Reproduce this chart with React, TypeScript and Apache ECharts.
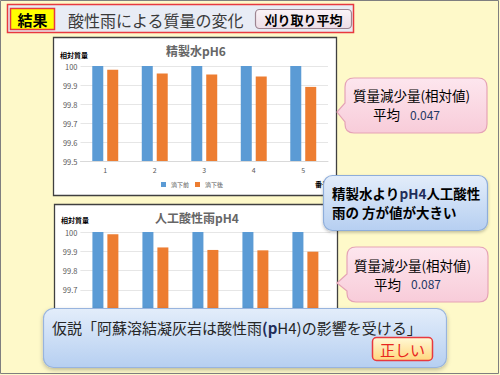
import React, { useEffect, useRef } from 'react';
import * as echarts from 'echarts';

// ---------- data ----------
const categories = ['1', '2', '3', '4', '5'];
const seriesNames = ['滴下前', '滴下後'];
const pureBefore = [100, 100, 100, 100, 100];
const pureAfter = [99.98, 99.96, 99.955, 99.945, 99.89];
const acidBefore = [100, 100, 100, 100, 100];
const acidAfter = [99.988, 99.92, 99.907, 99.905, 99.898];
const yMin = 99.5;
const yMax = 100;
const yStep = 0.1;

const chartTitles = ['精製水pH6', '人工酸性雨pH4'];
const yAxisName = '相対質量';
const xAxisName = '番号';
const headerLabel = '結果';
const headerTitle = '酸性雨による質量の変化';
const headerButton = '刈り取り平均';
const calloutHead = '質量減少量(相対値)';
const calloutAvgLabel = '平均';
const avgValues = ['0.047', '0.087'];
const compareLines = ['精製水より', 'pH4', '人工酸性', '雨の 方が値が大きい'];
const hypothesisParts = ['仮説「阿蘇溶結凝灰岩は酸性雨', '(p', 'H4)の影響を受ける」'];
const verdict = '正しい';

// ---------- styling ----------
const FF = "'Noto Sans CJK JP', 'Noto Sans', sans-serif";
const BLUE = '#5B9BD5';
const ORANGE = '#ED7D31';

function calloutD(x: number, y: number, w: number, h: number, r: number, tail?: number[]) {
  let d = `M${x + r},${y} H${x + w - r} Q${x + w},${y} ${x + w},${y + r} V${y + h - r} Q${x + w},${y + h} ${x + w - r},${y + h} H${x + r} Q${x},${y + h} ${x},${y + h - r}`;
  if (tail) {
    const [yTop, tipX, tipY, yBot] = tail;
    d += ` V${yBot} L${tipX},${tipY} L${x},${yTop}`;
  }
  d += ` V${y + r} Q${x},${y} ${x + r},${y} Z`;
  return d;
}

echarts.graphic.registerShape('calloutPink1', echarts.graphic.extendPath(calloutD(345, 78, 142, 55, 9, [103, 337, 112, 122]), {}));
echarts.graphic.registerShape('calloutPink2', echarts.graphic.extendPath(calloutD(347, 247, 141, 55, 9, [274, 337, 283, 291]), {}));

const pinkFill = () =>
  new echarts.graphic.LinearGradient(0, 0, 0, 1, [
    { offset: 0, color: '#FDE6EE' },
    { offset: 1, color: '#F8CCD9' },
  ]);
const blueFill = () =>
  new echarts.graphic.LinearGradient(0, 0, 0, 1, [
    { offset: 0, color: '#E3EDFA' },
    { offset: 1, color: '#B6CFF1' },
  ]);

function txt(x: number, y: number, text: string, opts: any = {}, z = 110) {
  const align = opts.align || 'left';
  return {
    type: 'text',
    x,
    y,
    z,
    style: {
      text,
      fill: opts.fill || '#000',
      fontSize: opts.fontSize || 12,
      fontWeight: opts.fontWeight || 'normal',
      fontFamily: FF,
      align,
      textAlign: align,
      verticalAlign: 'middle',
      textVerticalAlign: 'middle',
      rich: opts.rich,
    },
  };
}

// hiddenBelow: value labels below this lie under the hypothesis box in the reference
function axesFor(gridIndex: number, showXLabels: boolean, hiddenBelow: number) {
  return {
    x: {
      type: 'category',
      gridIndex,
      data: categories,
      axisLine: { lineStyle: { color: '#D9D9D9' } },
      axisTick: { show: false },
      axisLabel: { show: showXLabels, color: '#595959', fontSize: 7, margin: 5, fontFamily: FF },
    },
    y: {
      type: 'value',
      gridIndex,
      min: yMin,
      max: yMax,
      interval: yStep,
      axisLine: { show: false },
      axisTick: { show: false },
      splitLine: { lineStyle: { color: '#E6E6E6' } },
      axisLabel: {
        color: '#595959',
        fontSize: 7.5,
        margin: 3,
        fontFamily: FF,
        formatter: (v: number) => (v < hiddenBelow ? '' : String(+v.toFixed(1))),
      },
    },
  };
}

const a1 = axesFor(0, true, 0);
const a2 = axesFor(1, false, 99.65);

function bar(name: string, data: number[], color: string, idx: number) {
  return {
    type: 'bar',
    name,
    data,
    xAxisIndex: idx,
    yAxisIndex: idx,
    barWidth: 11,
    barGap: '36%',
    itemStyle: { color },
  };
}

const option: any = {
  animation: false,
  backgroundColor: '#FEF9C9',
  textStyle: { fontFamily: FF },
  grid: [
    { left: 80.5, width: 247.5, top: 66, height: 95, outerBoundsMode: 'none', containLabel: false },
    { left: 80.4, width: 250, top: 232, height: 96.5, outerBoundsMode: 'none', containLabel: false },
  ],
  xAxis: [a1.x, a2.x],
  yAxis: [a1.y, a2.y],
  legend: {
    left: 161,
    top: 181.5,
    padding: 0,
    itemWidth: 5,
    itemHeight: 5,
    itemGap: 6,
    icon: 'rect',
    data: seriesNames,
    textStyle: { fontSize: 6, color: '#595959', fontFamily: FF },
  },
  series: [
    bar(seriesNames[0], pureBefore, BLUE, 0),
    bar(seriesNames[1], pureAfter, ORANGE, 0),
    bar(seriesNames[0], acidBefore, BLUE, 1),
    bar(seriesNames[1], acidAfter, ORANGE, 1),
  ],
  graphic: [
    // slide border
    { type: 'rect', z: -20, shape: { x: 0.5, y: 0.5, width: 498, height: 373 }, style: { fill: 'none', stroke: '#7F7F7F', lineWidth: 1 } },
    // header bar
    { type: 'rect', z: -5, shape: { x: 7.5, y: 4.5, width: 346, height: 28 }, style: { fill: '#E8ECF5', stroke: '#E8393F', lineWidth: 1.5 } },
    { type: 'rect', z: -4, shape: { x: 10.5, y: 8.5, width: 44, height: 21 }, style: { fill: '#FFFF00', stroke: '#E8393F', lineWidth: 1.5 } },
    txt(32.5, 19.5, headerLabel, { fontSize: 15, fontWeight: 'bold', align: 'center' }, 5),
    txt(68, 19.5, headerTitle, { fontSize: 16, fill: '#3A3A3A' }, 5),
    {
      type: 'rect',
      z: -4,
      shape: { x: 255.5, y: 9.5, width: 96, height: 19, r: 4 },
      style: {
        fill: new echarts.graphic.LinearGradient(0, 0, 0, 1, [
          { offset: 0, color: '#FBF4F8' },
          { offset: 1, color: '#EDDDE6' },
        ]),
        stroke: '#9E8592',
        lineWidth: 1.2,
      },
    },
    txt(303.5, 19.5, headerButton, { fontSize: 13, fontWeight: 'bold', align: 'center' }, 5),

    // chart boxes
    { type: 'rect', z: -10, shape: { x: 53.5, y: 37.5, width: 283, height: 158 }, style: { fill: '#FFFFFF', stroke: '#404040', lineWidth: 1.3 } },
    { type: 'rect', z: -10, shape: { x: 54.5, y: 204.5, width: 283, height: 158 }, style: { fill: '#FFFFFF', stroke: '#404040', lineWidth: 1.3 } },
    txt(196, 50, chartTitles[0], { fontSize: 12, fontWeight: 'bold', fill: '#666666', align: 'center' }, 10),
    txt(197, 217, chartTitles[1], { fontSize: 12, fontWeight: 'bold', fill: '#666666', align: 'center' }, 10),
    txt(60, 55, yAxisName, { fontSize: 7, fontWeight: 'bold' }, 10),
    txt(61, 219.5, yAxisName, { fontSize: 7, fontWeight: 'bold' }, 10),
    txt(315, 183.5, xAxisName, { fontSize: 7, fontWeight: 'bold' }, 10),

    // pink callout 1
    { type: 'calloutPink1', x: 0, y: 0, z: 100, style: { fill: pinkFill(), stroke: '#E5A3B6', lineWidth: 1.2 } },
    txt(353, 95, calloutHead, { fontSize: 13.5 }),
    txt(373, 114, calloutAvgLabel, { fontSize: 13.5 }),
    txt(410, 114, avgValues[0], { fontSize: 12, fill: '#1F3864' }),

    // blue callout
    {
      type: 'rect',
      z: 100,
      shape: { x: 323.5, y: 175.5, width: 164, height: 55, r: 9 },
      style: { fill: blueFill(), stroke: '#8EADDA', lineWidth: 1.2, shadowBlur: 3, shadowColor: 'rgba(0,0,0,0.25)', shadowOffsetY: 1.5 },
    },
    txt(332, 193, `{a|${compareLines[0]}}{b|${compareLines[1]}}{a|${compareLines[2]}}`, {
      fontSize: 13.5,
      fontWeight: 'bold',
      rich: {
        a: { fontSize: 13.5, fontWeight: 'bold', fill: '#000', fontFamily: FF },
        b: { fontSize: 13.5, fontWeight: 'bold', fill: '#1F2D5A', fontFamily: FF },
      },
    }),
    txt(332, 212, compareLines[3], { fontSize: 13.5, fontWeight: 'bold' }),

    // pink callout 2
    { type: 'calloutPink2', x: 0, y: 0, z: 100, style: { fill: pinkFill(), stroke: '#E5A3B6', lineWidth: 1.2 } },
    txt(354, 264.5, calloutHead, { fontSize: 13.5 }),
    txt(374, 283.5, calloutAvgLabel, { fontSize: 13.5 }),
    txt(411, 283.5, avgValues[1], { fontSize: 12, fill: '#1F3864' }),

    // hypothesis box
    {
      type: 'rect',
      z: 100,
      shape: { x: 43.5, y: 308.5, width: 403, height: 59, r: 10 },
      style: { fill: blueFill(), stroke: '#98B4DE', lineWidth: 1.2, shadowBlur: 4, shadowColor: 'rgba(0,0,0,0.25)', shadowOffsetY: 2 },
    },
    txt(52, 327, `{a|${hypothesisParts[0]}}{b|${hypothesisParts[1]}}{a|${hypothesisParts[2]}}`, {
      fontSize: 15,
      rich: {
        a: { fontSize: 15, fill: '#262626', fontFamily: FF },
        b: { fontSize: 15, fontWeight: 'bold', fill: '#1F2D5A', fontFamily: FF },
      },
    }),
    {
      type: 'rect',
      z: 105,
      shape: { x: 372.5, y: 337.5, width: 60, height: 23, r: 4 },
      style: {
        fill: new echarts.graphic.LinearGradient(0, 0, 0, 1, [
          { offset: 0, color: '#FFF9D6' },
          { offset: 1, color: '#FFD77E' },
        ]),
        stroke: '#E8393F',
        lineWidth: 1.5,
      },
    },
    txt(402.5, 349, verdict, { fontSize: 15, fill: '#E8261E', align: 'center' }),
  ],
};

export default function App() {
  const ref = useRef<HTMLDivElement>(null);
  useEffect(() => {
    const chart = echarts.init(ref.current!, null, { renderer: 'svg', width: 500, height: 375 });
    chart.setOption(option);
    return () => chart.dispose();
  }, []);
  return <div ref={ref} style={{ position: 'absolute', left: 0, top: 0, width: 500, height: 375 }} />;
}
